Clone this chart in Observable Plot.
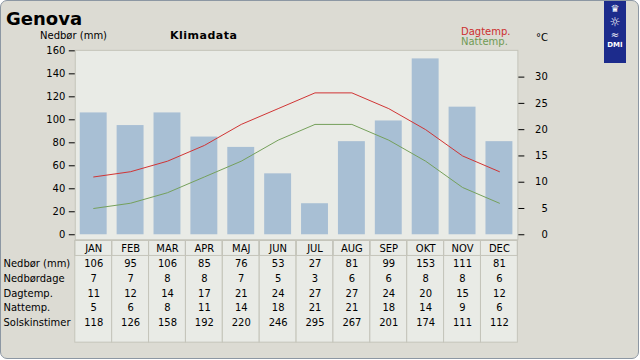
<!DOCTYPE html>
<html><head><meta charset="utf-8">
<script src="https://cdn.jsdelivr.net/npm/d3@7"></script>
<script src="https://cdn.jsdelivr.net/npm/@observablehq/plot@0.6"></script>
<style>
html,body{margin:0;padding:0;background:#fff;}
#wrap{position:relative;width:639px;height:359px;box-sizing:border-box;border:1px solid #8c97a3;border-radius:7px;background:#dcdbd3;overflow:hidden;font-family:"DejaVu Sans",sans-serif;color:#000;}
.abs{position:absolute;white-space:nowrap;line-height:1;}
#main,#table{position:absolute;left:-1px;}
#main{top:-1px;}
#table{top:238px;}
#logo{position:absolute;left:603px;top:-1px;width:22px;height:63px;background:#1c2b8c;color:#fff;text-align:center;font-family:"DejaVu Sans",sans-serif;}
#logo div{line-height:1;}
</style></head>
<body>
<div id="wrap">
  <div class="abs" style="left:5px;top:9px;font-size:18px;font-weight:bold;">Genova</div>
  <div class="abs" style="left:39px;top:30px;font-size:10px;">Nedbør (mm)</div>
  <div class="abs" style="left:169px;top:29px;font-size:11px;font-weight:bold;letter-spacing:0.5px;">Klimadata</div>
  <div class="abs" style="left:460px;top:26px;font-size:10px;color:#cc2f2f;">Dagtemp.</div>
  <div class="abs" style="left:460px;top:36px;font-size:10px;color:#6f9a55;">Nattemp.</div>
  <div class="abs" style="left:535px;top:32px;font-size:10px;">°C</div>
  <div id="logo">
    <div style="font-size:10px;margin-top:4px;">♛</div>
    <div style="font-size:12px;margin-top:2px;">☼</div>
    <div style="font-size:10px;margin-top:2px;">≈</div>
    <div style="font-size:7px;font-weight:bold;margin-top:2px;">DMI</div>
  </div>
  <div id="main"></div>
  <div id="table"></div>
</div>
<script>
const months = ["JAN","FEB","MAR","APR","MAJ","JUN","JUL","AUG","SEP","OKT","NOV","DEC"];
const nedbor = [106,95,106,85,76,53,27,81,99,153,111,81];
const nedbordage = [7,7,8,8,7,5,3,6,6,8,8,6];
const dagtemp = [11,12,14,17,21,24,27,27,24,20,15,12];
const nattemp = [5,6,8,11,14,18,21,21,18,14,9,6];
const solskin = [118,126,158,192,220,246,295,267,201,174,111,112];
const rowLabels = ["Nedbør (mm)","Nedbørdage","Dagtemp.","Nattemp.","Solskinstimer"];
const rowValues = [nedbor, nedbordage, dagtemp, nattemp, solskin];
const mmTicks = [0,20,40,60,80,100,120,140,160];
const tempTicks = [0,5,10,15,20,25,30];
const mmMax = 160, tempMax = 35;
const k = mmMax / tempMax;

const data = months.map((m, i) => ({month: m, nedbor: nedbor[i], dag: dagtemp[i], nat: nattemp[i]}));
const font = {fontFamily: "DejaVu Sans, sans-serif", fontSize: "10px", background: "transparent", overflow: "visible", color: "#000"};

const main = Plot.plot({
  width: 640, height: 240,
  marginLeft: 75, marginRight: 121, marginTop: 50, marginBottom: 0,
  style: font,
  x: {type: "band", domain: months, padding: 0, axis: null},
  y: {domain: [0, mmMax], range: [235, 50.5], axis: null},
  marks: [
    Plot.frame({fill: "#e9ebe6", stroke: "#c4c4ba"}),
    Plot.barY(data, {x: "month", y: "nedbor", fill: "#a8bfd4", insetLeft: 5, insetRight: 5}),
    Plot.line(data, {x: "month", y: d => d.dag * k, stroke: "#d03333", strokeWidth: 1}),
    Plot.line(data, {x: "month", y: d => d.nat * k, stroke: "#74a05a", strokeWidth: 1}),
    Plot.axisY(mmTicks, {anchor: "left", tickSize: 6, tickPadding: 4, label: null}),
    Plot.axisY(tempTicks.map(t => t * k), {anchor: "right", tickSize: 6, tickPadding: 24, textAnchor: "end", tickFormat: v => String(Math.round(v / k)), label: null})
  ]
});
document.getElementById("main").append(main);

const cells = rowValues.flatMap((vals, r) => months.map((m, i) => ({month: m, row: r, value: vals[i]})));
const table = Plot.plot({
  width: 640, height: 106,
  marginLeft: 75, marginRight: 121, marginTop: 0, marginBottom: 0,
  style: font,
  x: {type: "band", domain: months, padding: 0, axis: null},
  y: {domain: [0, 6.8], range: [1.5, 103.5], axis: null},
  marks: [
    Plot.barY(months, {x: d => d, y1: 0, y2: 6.8, fill: "#e9ebe6", stroke: "#c4c4ba"}),
    Plot.barY(months, {x: d => d, y1: 0, y2: 1, fill: "none", stroke: "#c4c4ba"}),
    Plot.text(months, {x: d => d, y: 0.5, text: d => d}),
    Plot.text(cells, {x: "month", y: d => d.row + 1.5, text: "value"}),
    Plot.text(rowLabels, {frameAnchor: "left", y: (d, i) => i + 1.5, text: d => d, textAnchor: "start", dx: -72})
  ]
});
document.getElementById("table").append(table);
</script>
</body></html>
